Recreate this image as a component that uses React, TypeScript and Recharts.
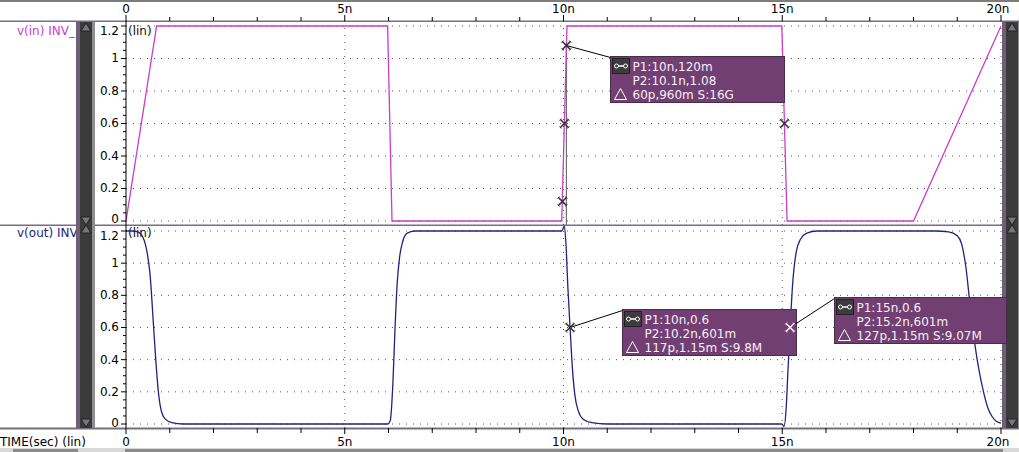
import React from 'react';
import { ComposedChart, Line, XAxis, YAxis, ReferenceLine, ReferenceDot } from 'recharts';

// ---- axis ticks ----
const timeTicks = [0, 1, 2, 3, 4, 5, 6, 7, 8, 9, 10, 11, 12, 13, 14, 15, 16, 17, 18, 19, 20];
const majorTimeTicks = [0, 5, 10, 15, 20];
const timeTickLabels = ['0', '5n', '10n', '15n', '20n'];
const voltTicks = [0, 0.05, 0.1, 0.15, 0.2, 0.25, 0.3, 0.35, 0.4, 0.45, 0.5, 0.55, 0.6, 0.65, 0.7, 0.75, 0.8, 0.85, 0.9, 0.95, 1, 1.05, 1.1, 1.15, 1.2];
const majorVoltTicks = [0, 0.2, 0.4, 0.6, 0.8, 1, 1.2];
const voltTickLabels = ['0', '0.2', '0.4', '0.6', '0.8', '1', '1.2'];
const gridTimes = [5, 10, 15, 20];

// ---- series: v(in) ----
const vinTime = [0, 0.7, 5.98, 6.08, 9.96, 10.08, 14.99, 15.11, 18, 20];
const vinValue = [0, 1.2, 1.2, 0, 0, 1.2, 1.2, 0, 0, 1.2];

// ---- series: v(out) ----
const voutTime = [
  0, 0.15, 0.27, 0.39, 0.48, 0.55, 0.62, 0.68, 0.74, 0.8, 0.9, 1.05, 1.3,
  5.98, 6.04, 6.1, 6.15, 6.2, 6.25, 6.32, 6.42, 6.6,
  9.96, 10.02, 10.06, 10.1, 10.15, 10.2, 10.26, 10.34, 10.45, 10.65, 11,
  14.99, 15.04, 15.09, 15.13, 15.18, 15.24, 15.32, 15.42, 15.55, 15.8,
  18.5, 18.8, 19.0, 19.1, 19.2, 19.3, 19.4, 19.5, 19.6, 19.7, 19.8, 19.9, 20,
];
const voutValue = [
  1.2, 1.2, 1.195, 1.16, 1.07, 0.93, 0.65, 0.4, 0.2, 0.09, 0.03, 0.008, 0,
  0, 0.02, 0.25, 0.6, 0.88, 1.03, 1.13, 1.185, 1.2,
  1.2, 1.23, 1.1, 0.85, 0.6, 0.36, 0.18, 0.08, 0.03, 0.008, 0,
  0, -0.015, 0.1, 0.33, 0.6, 0.88, 1.07, 1.15, 1.185, 1.2,
  1.2, 1.195, 1.17, 1.12, 0.97, 0.72, 0.5, 0.33, 0.2, 0.1, 0.045, 0.015, 0.005,
];

// ---- cursor markers ----
const topMarkerTime = [9.975, 10.02, 15.05];
const topMarkerValue = [0.12, 0.6, 0.6];
const anno1Point = { t: 10.065, v: 1.08 };
const anno2Point = { t: 10.15, v: 0.6 };
const anno3Point = { t: 15.18, v: 0.6 };
const anno1Lines = ['P1:10n,120m', 'P2:10.1n,1.08', '60p,960m S:16G'];
const anno2Lines = ['P1:10n,0.6', 'P2:10.2n,601m', '117p,1.15m S:9.8M'];
const anno3Lines = ['P1:15n,0.6', 'P2:15.2n,601m', '127p,1.15m S:9.07M'];

const vinData = vinTime.map((t, i) => ({ t, v: vinValue[i] }));
const voutData = voutTime.map((t, i) => ({ t, v: voutValue[i] }));

const FONT = 'DejaVu Sans';
const MAGENTA = '#cc3ccc';
const NAVY = '#22227e';
const FRAME = '#776d82';

const YTick = (props: any) => {
  const { x, y, payload } = props;
  const v = payload.value;
  const idx = majorVoltTicks.findIndex((m) => Math.abs(m - v) < 1e-6);
  const major = idx >= 0;
  const dy = v > 1.19 ? 5 : v < 0.01 ? -1.5 : 0;
  return (
    <g>
      <line x1={x - (major ? 5 : 3)} x2={x} y1={y} y2={y} stroke="#000" strokeWidth={1} />
      {major && (
        <text x={x - 7} y={y + dy} textAnchor="end" dominantBaseline="central" fontSize={12} fontFamily={FONT} fill="#000">
          {voltTickLabels[idx]}
        </text>
      )}
    </g>
  );
};

const XTickTop = (props: any) => {
  const { x, y, payload } = props;
  const idx = majorTimeTicks.indexOf(payload.value);
  return (
    <g>
      <line x1={x} x2={x} y1={y - (idx >= 0 ? 6 : 4)} y2={y} stroke="#000" strokeWidth={1} />
      {idx >= 0 && (
        <text x={x + (payload.value === 20 ? -3 : 0)} y={y - 12} textAnchor="middle" dominantBaseline="central" fontSize={12} fontFamily={FONT} fill="#000">
          {timeTickLabels[idx]}
        </text>
      )}
    </g>
  );
};

const XTickBottom = (props: any) => {
  const { x, y, payload } = props;
  const idx = majorTimeTicks.indexOf(payload.value);
  return (
    <g>
      <line x1={x} x2={x} y1={y} y2={y + (idx >= 0 ? 6 : 5)} stroke="#000" strokeWidth={1} />
      {idx >= 0 && (
        <text x={x + (payload.value === 20 ? -3 : 0)} y={y + 14} textAnchor="middle" dominantBaseline="central" fontSize={12} fontFamily={FONT} fill="#000">
          {timeTickLabels[idx]}
        </text>
      )}
    </g>
  );
};

const MarkerX = ({ cx, cy, stroke = '#333' }: { cx: number; cy: number; stroke?: string }) => (
  <g stroke={stroke} strokeWidth={1.6} fill="none">
    <line x1={cx - 4} y1={cy - 4} x2={cx + 4} y2={cy + 4} />
    <line x1={cx - 4} y1={cy + 4} x2={cx + 4} y2={cy - 4} />
    <line x1={cx - 5} y1={cy - 3} x2={cx - 3} y2={cy - 5} strokeWidth={1} />
    <line x1={cx + 3} y1={cy - 5} x2={cx + 5} y2={cy - 3} strokeWidth={1} />
    <line x1={cx - 5} y1={cy + 3} x2={cx - 3} y2={cy + 5} strokeWidth={1} />
    <line x1={cx + 3} y1={cy + 5} x2={cx + 5} y2={cy + 3} strokeWidth={1} />
  </g>
);

const markerShape = (props: any) => <MarkerX cx={props.cx} cy={props.cy} />;

const makeAnnotation = (lines: string[], dx: number, dy: number, w: number, markerStroke: string) => (props: any) => {
  const { cx, cy } = props;
  const bx = Math.round(cx + dx) + 0.5;
  const by = Math.round(cy + dy) + 0.5;
  return (
    <g>
      <line x1={cx} y1={cy} x2={bx} y2={by + 1} stroke="#000" strokeWidth={1} />
      <rect x={bx} y={by} width={w} height={46} fill="#723f72" stroke="#4b2a4b" />
      <rect x={bx + 2} y={by + 2} width={17} height={15} fill="#3c3c3c" stroke="#222" />
      <line x1={bx + 6} x2={bx + 15} y1={by + 9.5} y2={by + 9.5} stroke="#fff" strokeWidth={1.5} />
      <circle cx={bx + 6} cy={by + 9.5} r={2} fill="#3c3c3c" stroke="#fff" />
      <circle cx={bx + 15} cy={by + 9.5} r={2} fill="#3c3c3c" stroke="#fff" />
      <polygon points={`${bx + 4},${by + 43} ${bx + 16},${by + 43} ${bx + 10},${by + 32}`} fill="none" stroke="#fff" strokeWidth={1} />
      {lines.map((s, i) => (
        <text key={i} x={bx + 22} y={by + 10 + i * 14} dominantBaseline="central" fill="#f6eff6" fontSize={12} fontFamily={FONT}>
          {s}
        </text>
      ))}
      <MarkerX cx={cx} cy={cy} stroke={markerStroke} />
    </g>
  );
};

const anno1Shape = makeAnnotation(anno1Lines, 44, 10, 174, '#333');
const anno2Shape = makeAnnotation(anno2Lines, 52, -18, 174, '#333');
const anno3Shape = makeAnnotation(anno3Lines, 44, -30, 172, '#f0f0f0');

const TriUp = ({ x, y }: { x: number; y: number }) => (
  <polygon points={`${x},${y + 8} ${x + 10},${y + 8} ${x + 5},${y}`} fill="#777" stroke="#222" strokeWidth={1} />
);
const TriDown = ({ x, y }: { x: number; y: number }) => (
  <polygon points={`${x},${y} ${x + 10},${y} ${x + 5},${y + 8}`} fill="#777" stroke="#222" strokeWidth={1} />
);

const ScrollBar = ({ x }: { x: number }) => (
  <g>
    <rect x={x} y={22} width={4} height={406} fill="#6c5f76" />
    <rect x={x + 4} y={22} width={12} height={406} fill="#3b3b3b" />
    <rect x={x + 16} y={22} width={3} height={406} fill="#8e8e8e" />
    <TriUp x={x + 5} y={23} />
    <TriDown x={x + 5} y={217} />
    <TriUp x={x + 5} y={225} />
    <TriDown x={x + 5} y={419} />
  </g>
);

const Frame = () => (
  <svg width={1019} height={452} style={{ position: 'absolute', left: 0, top: 0 }}>
    <rect x={0} y={0} width={1019} height={2} fill="#7c7c7c" />
    <rect x={0} y={20.5} width={1019} height={1.5} fill={FRAME} />
    <rect x={0} y={224.5} width={1019} height={1.5} fill={FRAME} />
    <rect x={0} y={427.5} width={1019} height={2} fill={FRAME} />
    <text x={17} y={31} dominantBaseline="central" fontSize={12} fontFamily={FONT} fill={MAGENTA}>v(in) INV_</text>
    <text x={17} y={233} dominantBaseline="central" fontSize={12} fontFamily={FONT} fill={NAVY}>v(out) INV</text>
    <text x={128} y={31} dominantBaseline="central" fontSize={12} fontFamily={FONT} fill="#111">(lin)</text>
    <text x={128} y={233} dominantBaseline="central" fontSize={12} fontFamily={FONT} fill="#111">(lin)</text>
    <text x={0} y={442} dominantBaseline="central" fontSize={12} fontFamily={FONT} fill="#000">TIME(sec) (lin)</text>
    <ScrollBar x={76} />
    <ScrollBar x={1002} />
    <rect x={0} y={448} width={1019} height={4} fill="#d8d8d8" />
    <rect x={13} y={449} width={65} height={3} fill="#8a8a8a" />
    <rect x={125} y={449} width={878} height={3} fill="#8a8a8a" />
  </svg>
);

const gridStroke = '#555';
const gridDash = '1 6';

export default function App() {
  return (
    <div style={{ position: 'absolute', left: 0, top: 0, width: 1019, height: 452, overflow: 'hidden', background: '#fff', fontFamily: FONT }}>
      <style>{'.wave svg { overflow: visible; }'}</style>
      <Frame />
      <div className="wave" style={{ position: 'absolute', left: 0, top: 0 }}>
        <ComposedChart width={1019} height={225} margin={{ top: 0, right: 18, bottom: 0, left: 0 }}>
          <XAxis
            xAxisId={0}
            type="number"
            dataKey="t"
            orientation="top"
            height={21}
            domain={[0, 20]}
            ticks={timeTicks}
            interval={0}
            allowDataOverflow
            axisLine={false}
            tickLine={false}
            tickSize={0}
            tickMargin={0}
            tick={<XTickTop />}
          />
          <YAxis
            yAxisId={0}
            type="number"
            width={126}
            domain={[-0.02462, 1.23077]}
            ticks={voltTicks}
            interval={0}
            allowDataOverflow
            axisLine={{ stroke: '#000' }}
            tickLine={false}
            tickSize={0}
            tickMargin={0}
            tick={<YTick />}
          />
          {majorVoltTicks.map((v) => (
            <ReferenceLine key={'h' + v} y={v} stroke={gridStroke} strokeDasharray={gridDash} />
          ))}
          {gridTimes.map((t) => (
            <ReferenceLine key={'v' + t} x={t} stroke={gridStroke} strokeDasharray={gridDash} />
          ))}
          <ReferenceLine segment={[{ x: anno1Point.t, y: anno1Point.v }, { x: anno1Point.t, y: -0.02462 }]} stroke="#555" strokeWidth={1} />
          <Line data={vinData} dataKey="v" type="linear" stroke={MAGENTA} strokeWidth={1.3} dot={false} isAnimationActive={false} />
          {topMarkerTime.map((t, i) => (
            <ReferenceDot key={'m' + i} x={t} y={topMarkerValue[i]} r={4} shape={markerShape} />
          ))}
          <ReferenceDot x={anno1Point.t} y={anno1Point.v} r={4} shape={anno1Shape} />
        </ComposedChart>
      </div>
      <div className="wave" style={{ position: 'absolute', left: 0, top: 225 }}>
        <ComposedChart width={1019} height={227} margin={{ top: 0, right: 18, bottom: 0, left: 0 }}>
          <XAxis
            xAxisId={0}
            type="number"
            dataKey="t"
            orientation="bottom"
            height={24}
            domain={[0, 20]}
            ticks={timeTicks}
            interval={0}
            allowDataOverflow
            axisLine={false}
            tickLine={false}
            tickSize={0}
            tickMargin={0}
            tick={<XTickBottom />}
          />
          <YAxis
            yAxisId={0}
            type="number"
            width={126}
            domain={[-0.02487, 1.2373]}
            ticks={voltTicks}
            interval={0}
            allowDataOverflow
            axisLine={{ stroke: '#000' }}
            tickLine={false}
            tickSize={0}
            tickMargin={0}
            tick={<YTick />}
          />
          {majorVoltTicks.map((v) => (
            <ReferenceLine key={'h' + v} y={v} stroke={gridStroke} strokeDasharray={gridDash} />
          ))}
          {gridTimes.map((t) => (
            <ReferenceLine key={'v' + t} x={t} stroke={gridStroke} strokeDasharray={gridDash} />
          ))}
          <Line data={voutData} dataKey="v" type="monotone" stroke={NAVY} strokeWidth={1.3} dot={false} isAnimationActive={false} />
          <ReferenceDot x={anno2Point.t} y={anno2Point.v} r={4} shape={anno2Shape} />
          <ReferenceDot x={anno3Point.t} y={anno3Point.v} r={4} shape={anno3Shape} />
        </ComposedChart>
      </div>
    </div>
  );
}
